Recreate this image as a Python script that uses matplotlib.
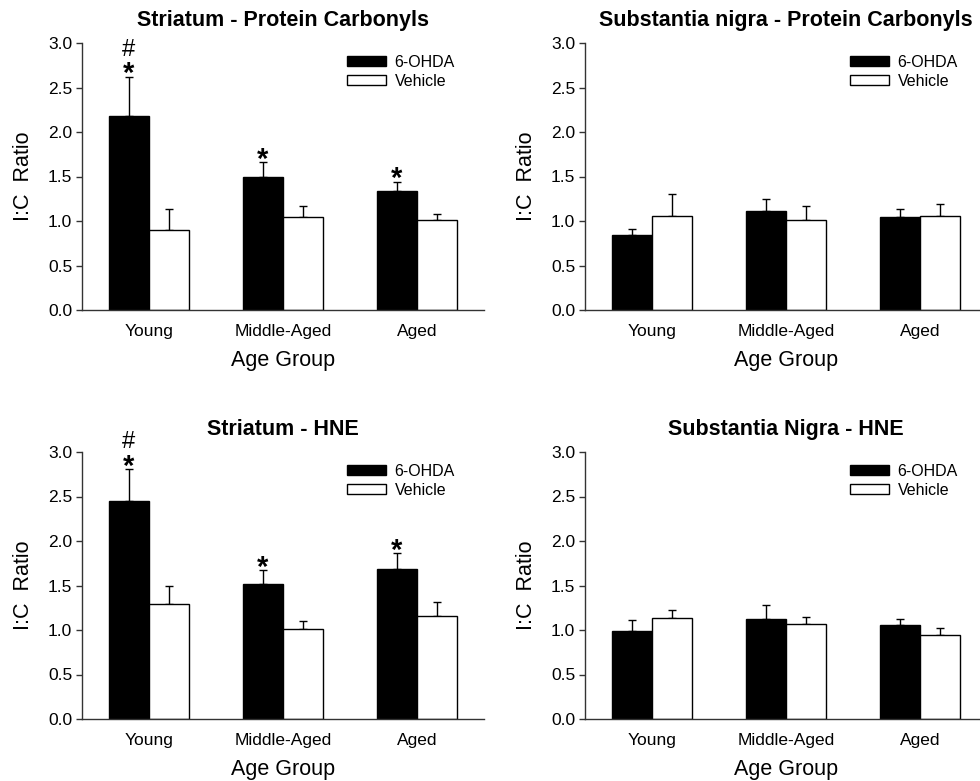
import numpy as np
import matplotlib
matplotlib.use("Agg")
import matplotlib.pyplot as plt

plt.rcParams['font.family'] = ['Liberation Sans', 'DejaVu Sans']

groups = ['Young', 'Middle-Aged', 'Aged']
series = ['6-OHDA', 'Vehicle']

# I:C ratio means and upper SEM for each panel
stc_ohda = [2.18, 1.50, 1.34]
stc_ohda_err = [0.44, 0.16, 0.10]
stc_veh = [0.90, 1.05, 1.015]
stc_veh_err = [0.23, 0.12, 0.06]

snc_ohda = [0.84, 1.11, 1.045]
snc_ohda_err = [0.07, 0.14, 0.085]
snc_veh = [1.06, 1.01, 1.06]
snc_veh_err = [0.24, 0.155, 0.13]

sth_ohda = [2.45, 1.52, 1.69]
sth_ohda_err = [0.36, 0.15, 0.17]
sth_veh = [1.29, 1.01, 1.16]
sth_veh_err = [0.20, 0.09, 0.16]

snh_ohda = [0.99, 1.12, 1.055]
snh_ohda_err = [0.12, 0.16, 0.065]
snh_veh = [1.14, 1.07, 0.94]
snh_veh_err = [0.09, 0.08, 0.08]

# significance marks over the 6-OHDA bars in the striatum panels
st_star = [True, True, True]
st_hash = [True, False, False]

panels = [
    ('Striatum - Protein Carbonyls', stc_ohda, stc_ohda_err, stc_veh, stc_veh_err, True),
    ('Substantia nigra - Protein Carbonyls', snc_ohda, snc_ohda_err, snc_veh, snc_veh_err, False),
    ('Striatum - HNE', sth_ohda, sth_ohda_err, sth_veh, sth_veh_err, True),
    ('Substantia Nigra - HNE', snh_ohda, snh_ohda_err, snh_veh, snh_veh_err, False),
]

W, H = 980, 781
fig = plt.figure(figsize=(W / 100, H / 100), dpi=100)

# axes boxes in pixels: left, top(y of 3.0), right, bottom(y of 0.0)
boxes = [(82, 43, 484, 310), (585, 43, 987, 310),
         (82, 452, 484, 719), (585, 452, 987, 719)]

spine_col = '#333333'
bw = 0.3
x = np.arange(len(groups))

for (title, a, ae, b, be, marked), (l, t, r, btm) in zip(panels, boxes):
    ax = fig.add_axes([l / W, 1 - btm / H, (r - l) / W, (btm - t) / H])
    ax.bar(x - bw / 2, a, bw, color='black', edgecolor='black', linewidth=1,
           label=series[0], zorder=2)
    ax.bar(x + bw / 2, b, bw, color='white', edgecolor='black', linewidth=1,
           label=series[1], zorder=2)
    ax.errorbar(x - bw / 2, a, yerr=[np.zeros(3), ae], fmt='none', ecolor='black',
                elinewidth=1, capsize=3.2, capthick=1, zorder=1)
    ax.errorbar(x + bw / 2, b, yerr=[np.zeros(3), be], fmt='none', ecolor='black',
                elinewidth=1, capsize=3.2, capthick=1, zorder=1)
    if marked:
        for xi, v, e, s, h in zip(x, a, ae, st_star, st_hash):
            if s:
                ax.annotate('*', (xi - bw / 2, v + e), xytext=(0, -4),
                            textcoords='offset points', ha='center', va='baseline',
                            fontsize=21, fontweight='bold')
            if h:
                ax.annotate('#', (xi - bw / 2, v + e), xytext=(0, 15),
                            textcoords='offset points', ha='center', va='baseline',
                            fontsize=17)

    ax.set_xlim(-0.5, 2.5)
    ax.set_ylim(0, 3.0)
    ax.set_yticks(np.arange(0, 3.01, 0.5))
    ax.set_yticklabels([f'{v:.1f}' for v in np.arange(0, 3.01, 0.5)])
    ax.set_xticks(x)
    ax.set_xticklabels(groups)
    ax.tick_params(axis='x', length=0, pad=10, labelsize=12.5)
    ax.tick_params(axis='y', direction='out', length=4, width=1, color=spine_col,
                   labelsize=12.5, pad=3)
    for s in ['top', 'right']:
        ax.spines[s].set_visible(False)
    for s in ['left', 'bottom']:
        ax.spines[s].set_color(spine_col)
        ax.spines[s].set_linewidth(1)
    ax.set_xlabel('Age Group', fontsize=15.5, labelpad=8)
    ax.set_ylabel('I:C  Ratio', fontsize=15.5, labelpad=10)
    ax.set_title(title, fontsize=15.5, fontweight='bold', pad=12)
    ax.legend(loc='upper left', bbox_to_anchor=(0.66, 0.955), frameon=False,
              fontsize=11.5, handlelength=2.4, handleheight=0.6, handletextpad=0.55,
              labelspacing=0.25, borderpad=0, borderaxespad=0)

fig.savefig('out.png', dpi=100)
